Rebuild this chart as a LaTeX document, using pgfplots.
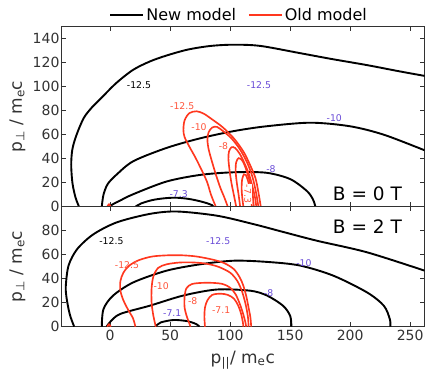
\documentclass[border=0pt]{standalone}
\usepackage{fontspec}
\setmainfont{DejaVu Sans}
\usepackage{pgfplots}
\pgfplotsset{compat=1.18}
\definecolor{oldc}{RGB}{255,55,30}
\definecolor{oldlab}{RGB}{255,85,60}
\definecolor{purp}{RGB}{105,75,215}
\definecolor{axc}{RGB}{50,50,50}
\tikzset{
 newl/.style={black, line width=1.9pt, smooth, tension=0.5},
 oldl/.style={oldc, line width=1.65pt, smooth, tension=0.5},
 clab/.style={font=\fontsize{9.3}{11}\selectfont},
}
\pgfplotsset{
 panel/.style={
  scale only axis, width=363.6pt, xmin=-41, xmax=262,
  axis line style={axc, line width=0.9pt},
  tick style={axc, line width=0.9pt},
  major tick length=4.5pt,
  tick align=inside,
  xtick={0,50,...,250},
  ticklabel style={font=\fontsize{14}{16}\selectfont, text=axc},
  yticklabel style={xshift=2pt},
  /pgf/number format/assume math mode=true,
  label style={font=\fontsize{17}{20}\selectfont, text=axc},
  ylabel={p\textsubscript{⊥} / m\textsubscript{e}c},
  ylabel style={at={(axis description cs:-0.12,0.5)}, anchor=center},
 },
}
\begin{document}
\begin{tikzpicture}
% ---------------- top panel: B = 0 T
\begin{axis}[panel, at={(0pt,0pt)}, anchor=south west, height=180pt,
  ymin=0, ymax=150, ytick={0,20,...,140}, xticklabels={},
  legend style={at={(axis description cs:0.49,1.065)}, anchor=center, draw=none, fill=none,
    legend columns=2, font=\fontsize{16}{18}\selectfont, inner sep=0pt,
    /tikz/every even column/.append style={column sep=10pt}},
  legend image code/.code={\draw[#1] (0pt,0pt) -- (33pt,0pt);},
]
\addlegendimage{newl}\addlegendentry{New model}
\addlegendimage{oldl}\addlegendentry{Old model}
% New model
\addplot[newl] coordinates {(-26,0) (-29,8) (-31.5,20) (-32.5,35) (-31.5,48) (-28,60) (-22,74) (-15,83) (-8,90) (5,103) (19,114) (33,121) (47,126) (65,131) (84,134) (103,135) (125,134) (158,128) (185,123) (214,118) (240,113) (262,109)};
\addplot[newl] coordinates {(-7,0) (-5.6,10) (-2,19) (5.6,27) (19.4,38) (47,49) (75,57) (103,63) (130,67) (167,70) (200,67) (228,60) (262,47)};
\addplot[newl] coordinates {(-1,0) (3,2.5) (8,5) (19.4,10.5) (47,21) (75,26.5) (103,28.7) (130,28.3) (150,23) (164,13) (169,6) (171,0)};
\addplot[newl] coordinates {(21,0) (26,2.8) (35,5.5) (45,7) (55,7.5) (66,6.4) (75,4.5) (81,2.8) (85,1.2) (86,0)};
% Old model
\addplot[oldl] coordinates {(88,0) (84,10) (80.6,21) (75,33) (71,41) (66,50) (62,58) (61,64) (62,72) (66,78) (72,79.5) (78,77.5) (86,72) (94,66) (103,57) (111,46) (116,36) (121,24) (123.5,12) (125.5,0)};
\addplot[oldl] coordinates {(98,0) (95,8) (91.7,16) (88,27) (84.7,38) (82,48) (81,56) (82,62) (85,66) (89,66.5) (94,63) (101,57) (108,48) (114,37) (118.5,25) (121.5,12) (123.5,0)};
\addplot[oldl] coordinates {(105,0) (103,10) (101,20) (99.5,30) (98.5,40) (99,46) (101,49.5) (104,49) (108,44) (112,36) (116,26) (119,15) (121,6) (121.7,0)};
\addplot[oldl] coordinates {(108.3,0) (107,10) (105.5,20) (104.5,30) (105,37) (107,40.5) (110,38.5) (113,32) (116,22) (118.5,12) (119.7,0)};
\addplot[oldl] coordinates {(111,0) (110,8) (109.5,16) (110,23) (111.5,27) (113,26.5) (115,21) (117,12) (118,0)};
\addplot[oldl] coordinates {(-2.5,0) (-1,2) (0.5,0)};
% labels
\node[clab, text=black] at (axis cs:24,101.7) {-12.5};
\node[clab, text=purp] at (axis cs:124,101.7) {-12.5};
\node[clab, text=purp] at (axis cs:186.7,73.5) {-10};
\node[clab, text=purp] at (axis cs:134,31.7) {-8};
\node[clab, text=purp] at (axis cs:57,10.8) {-7.3};
\node[clab, text=oldlab] at (axis cs:60,84) {-12.5};
\node[clab, text=oldlab] at (axis cs:74,66.4) {-10};
\node[clab, text=oldlab] at (axis cs:94.4,50.8) {-8};
\node[clab, text=oldlab, rotate=-90, fill=white, inner sep=0.5pt] at (axis cs:114.6,10.6) {-7.3};
\node[font=\fontsize{18.5}{20}\selectfont, anchor=base east, text=black] at (axis cs:246,5) {B = 0 T};
\end{axis}
% ---------------- bottom panel: B = 2 T
\begin{axis}[panel, at={(0pt,0pt)}, anchor=north west, height=120pt,
  ymin=0, ymax=100, ytick={0,20,...,80},
  xlabel={p\textsubscript{||}/ m\textsubscript{e}c},
  xlabel style={at={(axis description cs:0.5,0)}, anchor=base, yshift=-36.5pt},
]
\addplot[newl] coordinates {(-30,0) (-33,8) (-34.7,14.7) (-36.5,25) (-37,34) (-34.7,51) (-27.5,64.7) (-14,77) (5.6,87) (33,94) (55.6,96) (89,92.5) (119,85.6) (144,79) (172,71.7) (214,62) (262,46.7)};
\addplot[newl] coordinates {(-7,0) (-5.6,14.7) (2.5,26) (19.4,37) (47,46.7) (75,52) (103,55) (130.6,54) (158,51) (186,42.5) (214,28.6) (228,17.5) (233,6.4) (233.5,0)};
\addplot[newl] coordinates {(-3,0) (0,4) (8.3,10.6) (33,17.5) (61,26) (89,31) (116.7,30) (130.6,26) (144,17.5) (150,9) (151,0)};
\addplot[newl] coordinates {(37.5,0) (42,3.5) (53,5.6) (65,4.5) (72,2) (74.4,0)};
\addplot[oldl] coordinates {(21,0) (19,7) (15,14) (11,22) (8.5,30) (8.5,38) (11,45) (16,51) (24,55.5) (35,58.5) (48,59.5) (60,59.5) (72,58.5) (85,56) (95,53) (103,48) (108,41) (111,34) (113.5,25) (115,17.5) (116.8,8) (117.5,0)};
\addplot[oldl] coordinates {(38,0) (36,9) (34.5,20) (34.5,32) (36,42) (40,49) (47,52) (58,53.5) (70,53.5) (80,52.5) (90,50) (100,45) (106,38) (110,29) (113,18) (114.8,8) (115.3,0)};
\addplot[oldl] coordinates {(67,0) (64,8) (62,16) (62,25) (63.5,32) (68,35.5) (76,36.5) (86,36.5) (94,35.5) (100,32.5) (104.5,27) (108,19) (111,10) (112.8,3) (113.3,0)};
\addplot[oldl] coordinates {(79,0) (78.5,8) (79,16) (81,22) (85,26.5) (92,27.5) (98,26.5) (103,23.5) (106.5,18) (109,11) (110.5,4) (111,0)};
\addplot[oldl] coordinates {(-2.5,0) (-1,2) (0.5,0)};
\node[clab, text=black] at (axis cs:1,71.7) {-12.5};
\node[clab, text=purp] at (axis cs:90,71.7) {-12.5};
\node[clab, text=purp] at (axis cs:161.4,53) {-10};
\node[clab, text=purp] at (axis cs:132,28) {-8};
\node[clab, text=purp] at (axis cs:51.7,11.4) {-7.1};
\node[clab, text=oldlab] at (axis cs:14,51.7) {-12.5};
\node[clab, text=oldlab] at (axis cs:42.5,33.6) {-10};
\node[clab, text=oldlab] at (axis cs:68.8,21.1) {-8};
\node[clab, text=oldlab] at (axis cs:92.5,14.2) {-7.1};
\node[font=\fontsize{18.5}{20}\selectfont, anchor=base east, text=black] at (axis cs:246,78) {B = 2 T};
\end{axis}
\pgfresetboundingbox
\path[use as bounding box] (-61pt,-171.3pt) rectangle (365pt,206.7pt);
\end{tikzpicture}
\end{document}
